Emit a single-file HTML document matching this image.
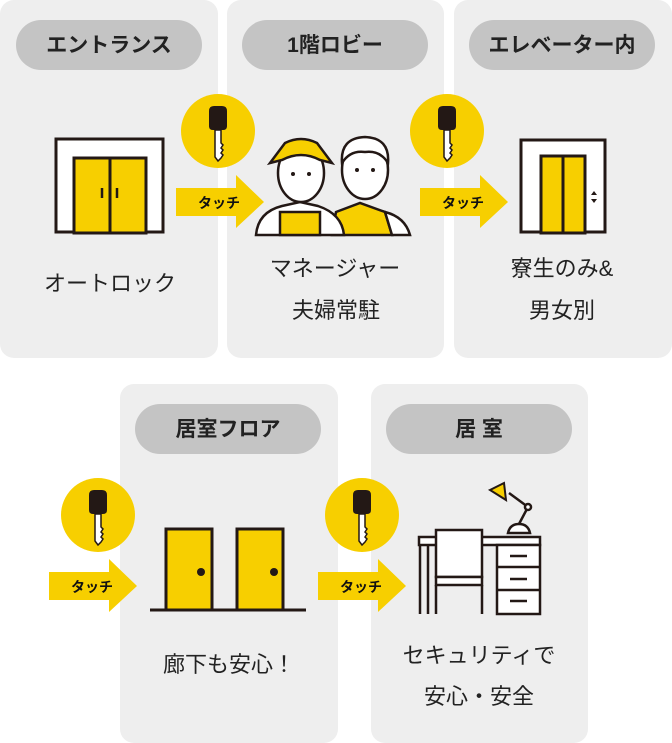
<!DOCTYPE html>
<html><head><meta charset="utf-8"><style>
html,body{margin:0;padding:0;background:#fff;width:672px;height:743px;overflow:hidden}
svg{display:block}
text{font-family:"Liberation Sans","Noto Sans CJK JP",sans-serif}
.p{font-size:21px;font-weight:bold;fill:#222;text-anchor:middle}
.l{font-size:22px;fill:#222;text-anchor:middle}
.t{font-size:14px;font-weight:bold;fill:#111;text-anchor:middle}
</style></head><body>
<svg width="672" height="743" viewBox="0 0 672 743" xmlns="http://www.w3.org/2000/svg">
<defs>
<g id="key">
<path d="M-9,-22 Q-9,-27 -4,-27 L4,-27 Q9,-27 9,-22 L9,-7 Q9,-3 5,-3 L-5,-3 Q-9,-3 -9,-7 Z" fill="#231815"/>
<path d="M-3,-3 L-3,24 L0,28 L3,25 L5,22 L3,20 L5,17 L3,15 L5,12 L3,10 L3,-3 Z" fill="#fff" stroke="#231815" stroke-width="1.5"/>
</g>
<g id="arr">
<rect x="0" y="13" width="62" height="28" fill="#f7cf00"/>
<polygon points="60,0 88,27 60,53" fill="#f7cf00"/>
<text x="43" y="33" class="t">タッチ</text>
</g>
</defs>
<rect x="0" y="0" width="218" height="358" rx="14" fill="#eeeeee"/>
<rect x="227" y="0" width="217" height="358" rx="14" fill="#eeeeee"/>
<rect x="454" y="0" width="218" height="358" rx="14" fill="#eeeeee"/>
<rect x="120" y="384" width="218" height="359" rx="14" fill="#eeeeee"/>
<rect x="371" y="384" width="217" height="359" rx="14" fill="#eeeeee"/>
<rect x="16" y="20" width="186" height="50" rx="25" fill="#c4c4c4"/>
<rect x="242" y="20" width="186" height="50" rx="25" fill="#c4c4c4"/>
<rect x="469" y="20" width="186" height="50" rx="25" fill="#c4c4c4"/>
<rect x="135" y="404" width="186" height="50" rx="25" fill="#c4c4c4"/>
<rect x="386" y="404" width="186" height="50" rx="25" fill="#c4c4c4"/>
<text x="109" y="52" class="p">エントランス</text>
<text x="335" y="52" class="p">1階ロビー</text>
<text x="562" y="52" class="p">エレベーター内</text>
<text x="228" y="436" class="p">居室フロア</text>
<text x="479" y="436" class="p">居 室</text>
<text x="110" y="291" class="l">オートロック</text>
<text x="335" y="276" class="l">マネージャー</text>
<text x="336" y="318" class="l">夫婦常駐</text>
<text x="562" y="276" class="l">寮生のみ&amp;</text>
<text x="562" y="318" class="l">男女別</text>
<text x="229" y="672" class="l">廊下も安心！</text>
<text x="479" y="663" class="l">セキュリティで</text>
<text x="479" y="704" class="l">安心・安全</text>
<circle cx="218" cy="131" r="37" fill="#f7cf00"/><use href="#key" x="218" y="133"/>
<circle cx="447" cy="131" r="37" fill="#f7cf00"/><use href="#key" x="447" y="133"/>
<circle cx="98" cy="515" r="37" fill="#f7cf00"/><use href="#key" x="98" y="517"/>
<circle cx="362" cy="515" r="37" fill="#f7cf00"/><use href="#key" x="362" y="517"/>
<use href="#arr" x="176" y="175"/>
<use href="#arr" x="420" y="175"/>
<use href="#arr" x="49" y="559"/>
<use href="#arr" x="318" y="559"/>
<rect x="56" y="139" width="107" height="93" fill="#fff" stroke="#231815" stroke-width="3"/>
<rect x="74" y="158" width="72" height="75" fill="#f7cf00" stroke="#231815" stroke-width="3"/>
<line x1="110" y1="158" x2="110" y2="233" stroke="#231815" stroke-width="3"/>
<line x1="102" y1="188" x2="102" y2="198" stroke="#231815" stroke-width="2.5"/>
<line x1="117" y1="188" x2="117" y2="198" stroke="#231815" stroke-width="2.5"/>
<g stroke="#231815" stroke-width="2.5">
<path d="M332,235 L336,212 L360,203 L385,212 L392,235 Z" fill="#f7cf00"/>
<path d="M385,212 Q405,217 410,235 L392,235 Z" fill="#fff"/>
<ellipse cx="365" cy="170" rx="23" ry="29" fill="#fff"/>
<path d="M342,163 Q340,138 365,137 Q390,138 388,163 Q380,150 365,152 Q350,150 342,163Z" fill="#fff"/>
<path d="M256,235 Q258,212 282,206 L300,202 L318,206 Q342,214 344,235 Z" fill="#fff"/>
<path d="M280,235 L280,212 L320,212 L320,235 Z" fill="#f7cf00"/>
<ellipse cx="301" cy="173" rx="23" ry="29" fill="#fff"/>
<path d="M270,163 L285,143 Q301,135 317,143 L332,163 L320,160 Q301,150 282,160 Z" fill="#f7cf00"/>
</g>
<g fill="#231815"><circle cx="293" cy="174" r="2"/><circle cx="309" cy="174" r="2"/><circle cx="357" cy="170" r="2"/><circle cx="373" cy="170" r="2"/></g>
<rect x="521" y="140" width="84" height="92" fill="#fff" stroke="#231815" stroke-width="3"/>
<rect x="541" y="156" width="44" height="77" fill="#f7cf00" stroke="#231815" stroke-width="3"/>
<line x1="563" y1="156" x2="563" y2="233" stroke="#231815" stroke-width="3"/>
<polygon points="591,195 597,195 594,191" fill="#231815"/><polygon points="591,199 597,199 594,203" fill="#231815"/>
<rect x="166" y="529" width="46" height="81" fill="#f7cf00" stroke="#231815" stroke-width="3"/>
<rect x="237" y="529" width="46" height="81" fill="#f7cf00" stroke="#231815" stroke-width="3"/>
<circle cx="201" cy="572" r="4" fill="#231815"/><circle cx="274" cy="572" r="4" fill="#231815"/>
<line x1="150" y1="610" x2="306" y2="610" stroke="#231815" stroke-width="3"/>
<g stroke="#231815" stroke-width="2.5" fill="#fff">
<rect x="419" y="537" width="121" height="8"/>
<line x1="420" y1="545" x2="420" y2="614"/><line x1="428" y1="545" x2="428" y2="614"/>
<rect x="497" y="545" width="43" height="69"/>
<line x1="497" y1="567" x2="540" y2="567"/><line x1="497" y1="590" x2="540" y2="590"/>
<line x1="510" y1="556" x2="527" y2="556"/><line x1="510" y1="579" x2="527" y2="579"/><line x1="510" y1="601" x2="527" y2="601"/>
<rect x="436" y="530" width="46" height="47"/>
<rect x="436" y="577" width="46" height="8"/>
<line x1="436" y1="585" x2="436" y2="614"/><line x1="482" y1="585" x2="482" y2="614"/>
<path d="M508,533 Q510,524 519,524 Q528,524 530,533 Z"/>
<path d="M519,524 L528,507 L509,493" fill="none"/>
<circle cx="528" cy="507" r="3"/>
</g>
<polygon points="490,490 504,483 506,500" fill="#f7cf00" stroke="#231815" stroke-width="2"/>
</svg>
</body></html>
